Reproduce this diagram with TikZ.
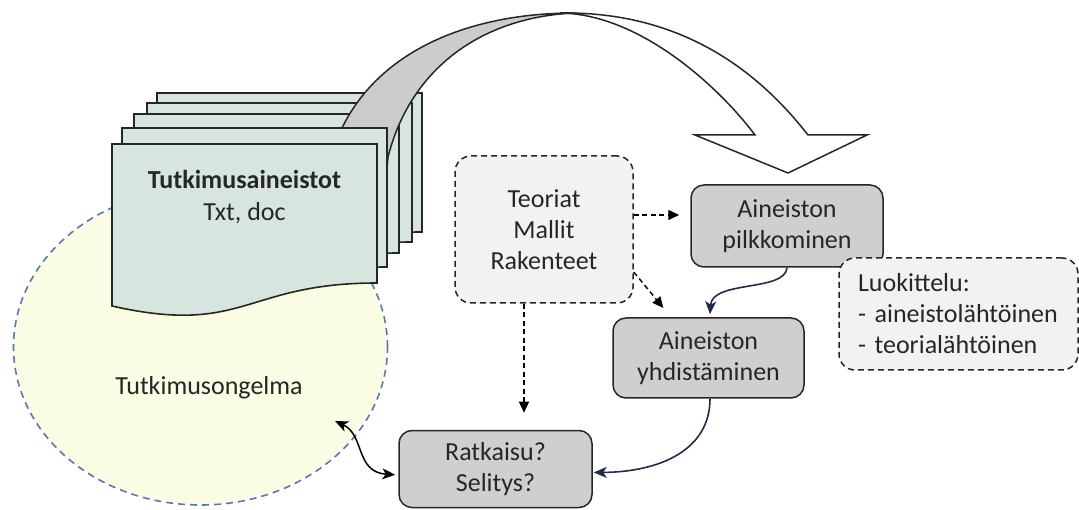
\documentclass[tikz,border=0pt]{standalone}
\usepackage{fontspec}
\setmainfont{Carlito}
\usetikzlibrary{arrows.meta,shapes.geometric}
\definecolor{docfill}{RGB}{214,229,221}
\definecolor{docline}{RGB}{38,38,38}
\definecolor{boxfill}{RGB}{208,206,206}
\definecolor{lightfill}{RGB}{242,242,242}
\definecolor{probfill}{RGB}{251,252,228}
\definecolor{probline}{RGB}{88,120,178}
\definecolor{navy}{RGB}{32,44,72}
\definecolor{bandgray}{RGB}{204,204,204}
\newcommand\mydocpage[2]{\draw[docstyle, shift={(#1,#2)}] (0,0) -- (265,0) -- (265,139) .. controls (132.5,139) and (132.5,192) .. (0,162) -- cycle;}
\begin{document}
\begin{tikzpicture}[x=1pt,y=-1pt,
  every node/.style={font=\fontsize{26}{31}\selectfont, text=black!85},
  docstyle/.style={draw=docline, fill=docfill, line width=1.6pt},
  graybox/.style={draw=docline, fill=boxfill, rounded corners=13pt, line width=1.5pt, inner sep=0pt, align=center},
  dashbox/.style={draw=docline, fill=lightfill, rounded corners=16pt, line width=1.5pt, dash pattern=on 6pt off 4pt, inner sep=0pt},
  dasharrow/.style={draw=black, line width=1.4pt, dash pattern=on 5pt off 3.5pt, -{Triangle[length=11pt,width=10pt]}},
  navyarrow/.style={draw=navy, line width=1.6pt, -{Stealth[length=13pt,width=11pt,inset=3.5pt]}},
  bothways/.style={draw=black, line width=1.5pt, {Stealth[length=13pt,width=11pt,inset=3.5pt]}-{Stealth[length=13pt,width=11pt,inset=3.5pt]}}
]
\useasboundingbox (0,0) rectangle (1079,510);

% problem ellipse
\node[ellipse, draw=probline, fill=probfill, line width=1.6pt, dash pattern=on 7pt off 5pt,
      minimum width=374pt, minimum height=316pt, inner sep=0pt] (prob) at (200.5,347) {};
\node (probtext) at (209,388) {Tutkimusongelma};

% curved block arrow (white front part)
\draw[draw=docline, fill=white, line width=1.5pt]
  (560,13) .. controls (690,11) and (765,80) .. (808,135)
  -- (867,135) -- (788,173) -- (695,135) -- (755,135)
  .. controls (719,87) and (640,14) .. (560,13) -- cycle;

% back document pages
\mydocpage{157}{93}
\mydocpage{147}{103}
\mydocpage{134}{114}

% gray (back) part of the curved arrow
\draw[draw=docline, fill=bandgray, line width=1.5pt]
  (330,200) -- (342,128) .. controls (380,50) and (470,13) .. (575,13)
  .. controls (480,17) and (410,70) .. (388,157) -- (384,200) -- cycle;

% front pages
\mydocpage{122}{128}
\mydocpage{112}{144}
\node[align=center, inner sep=0pt] (docs) at (244.5,197)
  {\textbf{Tutkimusaineistot}\\[1pt]Txt, doc};

% boxes
\node[dashbox, minimum width=178pt, minimum height=147pt, align=center] (teo) at (544,229.5)
  {Teoriat\\Mallit\\Rakenteet};
\node[graybox, minimum width=192pt, minimum height=82pt] (pil) at (787,226)
  {Aineiston\\pilkkominen};
\node[dashbox, minimum width=239pt, minimum height=112pt, text width=201pt, inner xsep=19pt, align=left] (luo) at (958.5,314)
  {Luokittelu:\\- aineistolähtöinen\\- teorialähtöinen};
\node[graybox, minimum width=191pt, minimum height=80pt] (yhd) at (708.5,358)
  {Aineiston\\yhdistäminen};
\node[graybox, minimum width=193pt, minimum height=77pt] (ratk) at (495.5,469)
  {Ratkaisu?\\Selitys?};

% dashed connectors from theories
\coordinate (t1) at ([yshift=14.5pt]teo.east);
\draw[dasharrow, shorten >=11pt] (t1) -- (t1 -| pil.west);
\coordinate (t2) at ([yshift=-42.5pt]teo.east);
\draw[dasharrow, shorten >=12pt] (t2) -- ([xshift=-37.5pt]yhd.north);
\coordinate (t3) at ([xshift=-20pt]teo.south);
\draw[dasharrow, shorten >=17pt] (t3) -- (t3 |- ratk.north);

% solid process connectors
\draw[navyarrow] (pil.south) .. controls (785,292) and (712,280) .. ([xshift=1.5pt,yshift=3pt]yhd.north);
\draw[navyarrow] ([xshift=1.5pt]yhd.south) .. controls (710,450) and (660,472) .. ([xshift=1pt,yshift=-3.5pt]ratk.east);

% two-way connector
\coordinate (pa) at (335,421);
\draw[bothways, shorten >=3pt] (pa) .. controls (365,435) and (355,472) .. ([yshift=-6pt]ratk.west);
\end{tikzpicture}
\end{document}
